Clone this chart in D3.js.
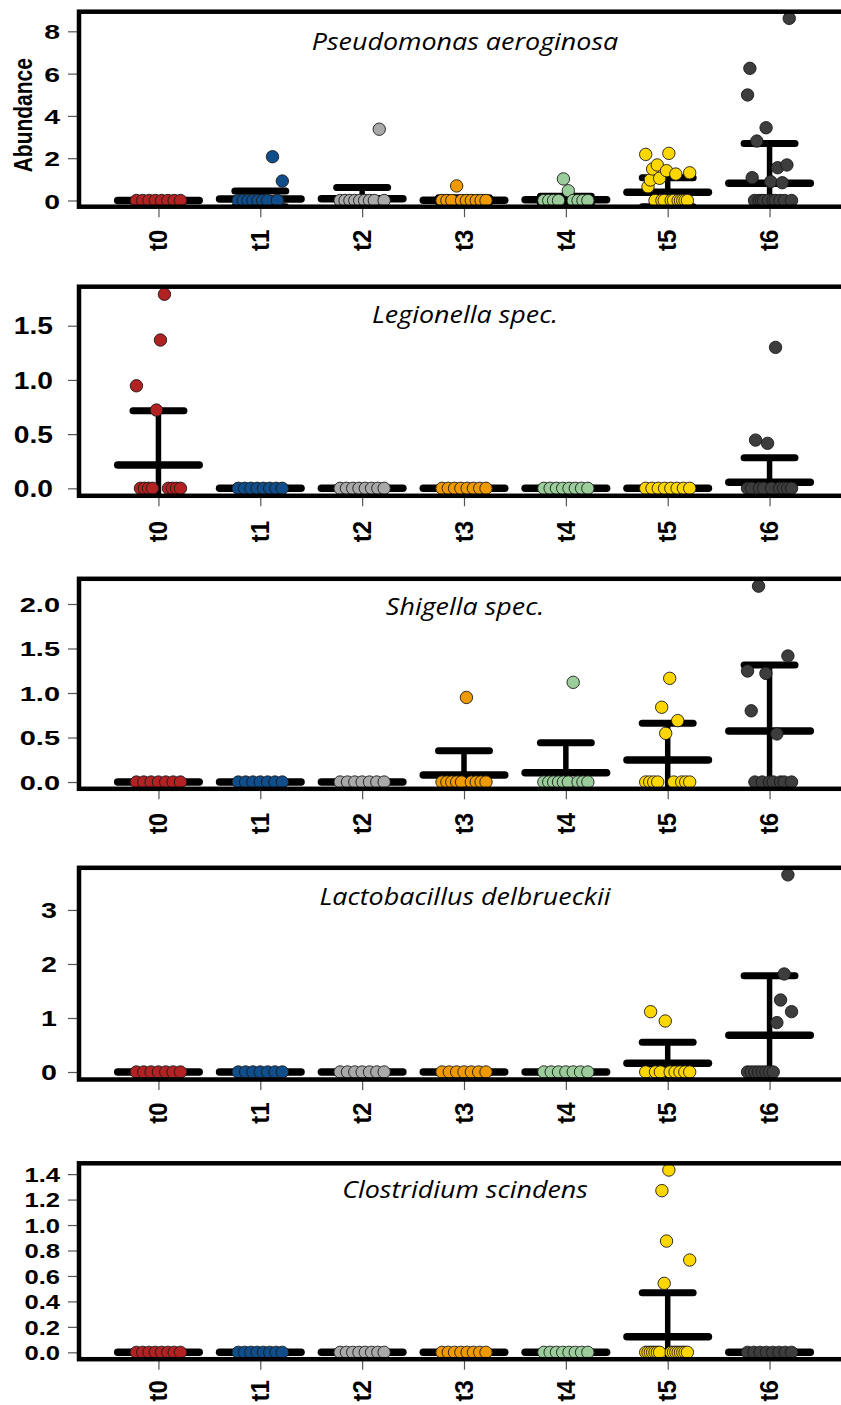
<!DOCTYPE html>
<html>
<head>
<meta charset="utf-8">
<script src="https://cdn.jsdelivr.net/npm/d3@7"></script>
<style>
  html, body { margin: 0; padding: 0; background: #fff; }
  svg { display: block; }
</style>
</head>
<body>
<svg id="chart" width="841" height="1405"></svg>
<script>
// ---- data -------------------------------------------------------------
const timepoints = ["t0", "t1", "t2", "t3", "t4", "t5", "t6"];
const groupColors = ["#B22222", "#104E8B", "#A9A9A9", "#EE9A00", "#9BCD9B", "#FFD700", "#3D3D3D"];
const taxonNames = [
  "Pseudomonas aeroginosa",
  "Legionella spec.",
  "Shigella spec.",
  "Lactobacillus delbrueckii",
  "Clostridium scindens"
];

// Abundance per sample, one list per time point, samples in plotting order
const pseudomonasValues = [
  [0, 0, 0, 0, 0, 0, 0, 0],
  [0, 0, 0, 0, 0, 0, 0, 2.07, 0, 0.92],
  [0, 0, 0, 0, 0, 0, 0, 0, 3.37, 0],
  [0, 0, 0, 0.69, 0, 0, 0, 0, 0, 0],
  [0, 0, 0, 0, 1.02, 0.46, 0, 0, 0, 0],
  [2.18, 0.65, 0.97, 1.49, 0, 1.68, 1.05, 0, 0, 1.41, 2.23, 0, 0, 1.25, 0, 0, 0, 0, 0, 1.31],
  [4.99, 6.25, 1.08, 0, 2.81, 0, 0, 0, 3.44, 0, 0.89, 0, 0, 1.55, 0, 0.84, 0, 1.68, 8.61, 0]
];
const pseudomonasMeans = [0, 0.075, 0.084, 0.017, 0.037, 0.39, 0.81];
const pseudomonasSD = [0, 0.37, 0.53, 0.11, 0.17, 0.69, 1.89];
const pseudomonasTicks = [0, 2, 4, 6, 8];

const legionellaValues = [
  [0.946, 0, 0, 0, 0, 0.722, 1.368, 1.79, 0, 0, 0, 0],
  [0, 0, 0, 0, 0, 0, 0, 0],
  [0, 0, 0, 0, 0, 0, 0, 0],
  [0, 0, 0, 0, 0, 0, 0, 0],
  [0, 0, 0, 0, 0, 0, 0, 0],
  [0, 0, 0, 0, 0, 0, 0, 0],
  [0, 0, 0.445, 0, 0, 0.415, 0, 1.30, 0, 0, 0, 0]
];
const legionellaMeans = [0.215, 0, 0, 0, 0, 0, 0.055];
const legionellaSD = [0.50, 0, 0, 0, 0, 0, 0.227];
const legionellaTicks = [0, 0.5, 1.0, 1.5];

const shigellaValues = [
  [0, 0, 0, 0, 0, 0, 0],
  [0, 0, 0, 0, 0, 0, 0],
  [0, 0, 0, 0, 0, 0, 0],
  [0, 0, 0, 0, 0, 0.95, 0, 0, 0, 0],
  [0, 0, 0, 0, 0, 0, 1.12, 0, 0, 0],
  [0, 0, 0, 0, 0.84, 0.547, 1.165, 0, 0.69, 0, 0, 0],
  [1.247, 0.80, 0, 2.20, 0, 1.22, 0, 0, 0.54, 0, 0, 1.416, 0]
];
const shigellaMeans = [0, 0, 0, 0.079, 0.105, 0.247, 0.573];
const shigellaSD = [0, 0, 0, 0.273, 0.335, 0.413, 0.742];
const shigellaTicks = [0, 0.5, 1.0, 1.5, 2.0];

const lactobacillusValues = [
  [0, 0, 0, 0, 0, 0, 0],
  [0, 0, 0, 0, 0, 0, 0],
  [0, 0, 0, 0, 0, 0, 0],
  [0, 0, 0, 0, 0, 0, 0],
  [0, 0, 0, 0, 0, 0, 0],
  [0, 1.117, 0, 0, 0.944, 0, 0, 0, 0, 0],
  [0, 0, 0, 0, 0, 0, 0, 0, 0.914, 1.333, 1.815, 3.65, 1.117]
];
const lactobacillusMeans = [0, 0, 0, 0, 0, 0.16, 0.68];
const lactobacillusSD = [0, 0, 0, 0, 0, 0.39, 1.10];
const lactobacillusTicks = [0, 1, 2, 3];

const clostridiumValues = [
  [0, 0, 0, 0, 0, 0, 0, 0],
  [0, 0, 0, 0, 0, 0, 0, 0],
  [0, 0, 0, 0, 0, 0, 0, 0],
  [0, 0, 0, 0, 0, 0, 0, 0],
  [0, 0, 0, 0, 0, 0, 0, 0],
  [0, 0, 0, 0, 0, 0, 0, 1.27, 0.542, 0.874, 1.432, 0, 0, 0, 0, 0, 0, 0, 0, 0.725],
  [0, 0, 0, 0, 0, 0, 0, 0]
];
const clostridiumMeans = [0, 0, 0, 0, 0, 0.123, 0];
const clostridiumSD = [0, 0, 0, 0, 0, 0.345, 0];
const clostridiumTicks = [0, 0.2, 0.4, 0.6, 0.8, 1.0, 1.2, 1.4];

// value range shown on each y axis
const yDomains = [[-0.293, 8.927], [-0.069, 1.860], [-0.076, 2.283], [-0.139, 3.781], [-0.054, 1.485]];
const tickDecimals = [0, 1, 1, 0, 1];

const panelData = [
  { values: pseudomonasValues, means: pseudomonasMeans, sd: pseudomonasSD, ticks: pseudomonasTicks },
  { values: legionellaValues, means: legionellaMeans, sd: legionellaSD, ticks: legionellaTicks },
  { values: shigellaValues, means: shigellaMeans, sd: shigellaSD, ticks: shigellaTicks },
  { values: lactobacillusValues, means: lactobacillusMeans, sd: lactobacillusSD, ticks: lactobacillusTicks },
  { values: clostridiumValues, means: clostridiumMeans, sd: clostridiumSD, ticks: clostridiumTicks }
];

// ---- layout -----------------------------------------------------------
const plotLeft = 79, plotRight = 849;
const frames = [
  { top: 11.7, bottom: 206.7 },
  { top: 286.7, bottom: 495.8 },
  { top: 578.8, bottom: 788.8 },
  { top: 867.8, bottom: 1079.5 },
  { top: 1163.3, bottom: 1359.2 }
];
const yLabelStyle = [
  { size: 21, sx: 1.35, right: 60 },
  { size: 23.5, sx: 1.2, right: 53 },
  { size: 21, sx: 1.38, right: 60 },
  { size: 22, sx: 1.3, right: 57 },
  { size: 21, sx: 1.22, right: 60 }
];
const xLabelGap = [23, 25, 24, 23, 21];
const titleGap = [38.3, 36.6, 35.9, 36.9, 35.1];
const titleCenter = 465;
const jitterHalf = 22;
const pointRadius = 6.2;

const svg = d3.select("#chart");
const x = d3.scalePoint().domain(timepoints).range([plotLeft, plotRight]).padding(0.78);
const step = x.step();

panelData.forEach((panel, k) => {
  const f = frames[k];
  const y = d3.scaleLinear().domain(yDomains[k]).range([f.bottom, f.top]);
  const g = svg.append("g").attr("class", "panel");

  const clipId = "plot-clip-" + k;
  g.append("clipPath").attr("id", clipId)
    .append("rect")
    .attr("x", plotLeft).attr("y", f.top)
    .attr("width", plotRight - plotLeft).attr("height", f.bottom - f.top);

  // y axis
  const fmt = d3.format("." + tickDecimals[k] + "f");
  const st = yLabelStyle[k];
  const yAxis = g.append("g")
    .attr("transform", `translate(${plotLeft},0)`)
    .call(d3.axisLeft(y).tickValues(panel.ticks).tickSize(11).tickFormat(fmt));
  yAxis.select(".domain").remove();
  yAxis.selectAll(".tick line").attr("stroke", "#555").attr("stroke-width", 1.2);
  yAxis.selectAll(".tick text")
    .attr("x", null).attr("dy", null)
    .attr("text-anchor", "end")
    .attr("dominant-baseline", "central")
    .attr("transform", `translate(${st.right - plotLeft},0) scale(${st.sx},1)`)
    .style("font-family", "'Liberation Sans', Arial, Helvetica, sans-serif")
    .style("font-weight", "bold")
    .style("font-size", st.size + "px")
    .attr("fill", "#000");

  // x axis
  const xAxis = g.append("g")
    .attr("transform", `translate(0,${f.bottom})`)
    .call(d3.axisBottom(x).tickSize(10.5).tickFormat(""));
  xAxis.select(".domain").remove();
  xAxis.selectAll(".tick line").attr("stroke", "#555").attr("stroke-width", 1.2);

  g.append("g").selectAll("text")
    .data(timepoints)
    .join("text")
    .attr("transform", d => `translate(${x(d)},${f.bottom + xLabelGap[k]}) scale(1.06,1) rotate(-90)`)
    .attr("text-anchor", "end")
    .attr("dominant-baseline", "central")
    .style("font-family", "'Liberation Sans', Arial, Helvetica, sans-serif")
    .style("font-weight", "bold")
    .style("font-size", "24px")
    .text(d => d);

  // mean and standard deviation bars, clipped to the plotting region
  const plot = g.append("g").attr("clip-path", `url(#${clipId})`);
  timepoints.forEach((t, i) => {
    const cx = x(t);
    const m = panel.means[i], s = panel.sd[i];
    const bars = plot.append("g")
      .attr("stroke", "#000").attr("stroke-linecap", "round").attr("fill", "none");
    bars.append("line")
      .attr("x1", cx).attr("x2", cx)
      .attr("y1", y(m - s)).attr("y2", y(m + s))
      .attr("stroke-width", 5.5);
    [m - s, m + s].forEach(v => {
      bars.append("line")
        .attr("x1", cx - 0.25 * step).attr("x2", cx + 0.25 * step)
        .attr("y1", y(v)).attr("y2", y(v))
        .attr("stroke-width", 7);
    });
    bars.append("line")
      .attr("x1", cx - 0.4 * step).attr("x2", cx + 0.4 * step)
      .attr("y1", y(m)).attr("y2", y(m))
      .attr("stroke-width", 7.5);
  });

  // individual samples, spread across the group width in listed order
  timepoints.forEach((t, i) => {
    const vals = panel.values[i];
    const n = vals.length;
    plot.append("g").selectAll("circle")
      .data(vals)
      .join("circle")
      .attr("cx", (d, j) => x(t) + (n > 1 ? (j / (n - 1) - 0.5) * 2 * jitterHalf : 0))
      .attr("cy", d => y(d))
      .attr("r", pointRadius)
      .attr("fill", groupColors[i])
      .attr("stroke", "#1a1a1a")
      .attr("stroke-width", 0.9);
  });

  // frame
  g.append("rect")
    .attr("x", plotLeft).attr("y", f.top)
    .attr("width", plotRight - plotLeft).attr("height", f.bottom - f.top)
    .attr("fill", "none").attr("stroke", "#000").attr("stroke-width", 4.5);

  // taxon name
  g.append("text")
    .attr("transform", `translate(${titleCenter},${f.top + titleGap[k]}) scale(1.12,1)`)
    .attr("text-anchor", "middle")
    .style("font-family", "'Open Sans', 'Noto Sans', sans-serif")
    .style("font-style", "italic")
    .style("font-size", "24px")
    .text(taxonNames[k]);
});

// y axis title on the first panel
svg.append("text")
  .attr("transform", `translate(23,${(frames[0].top + frames[0].bottom) / 2 + 6}) scale(1.25,1) rotate(-90)`)
  .attr("text-anchor", "middle")
  .attr("dominant-baseline", "central")
  .style("font-family", "'Liberation Sans', Arial, Helvetica, sans-serif")
  .style("font-weight", "bold")
  .style("font-size", "21px")
  .text("Abundance");
</script>
</body>
</html>
